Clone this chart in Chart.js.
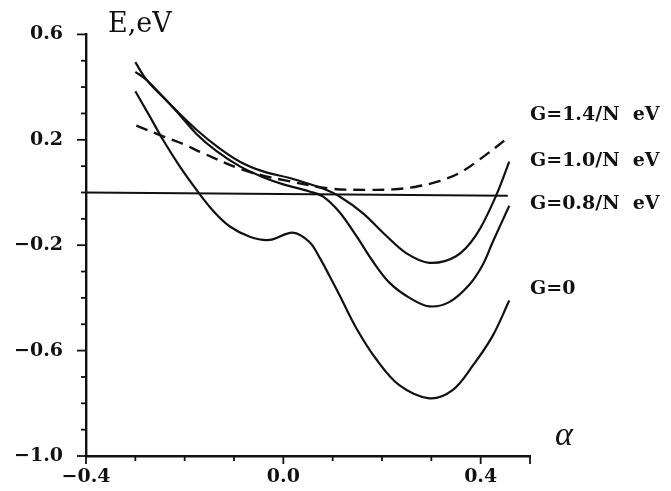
<!DOCTYPE html>
<html>
<head>
<meta charset="utf-8">
<script src="https://cdn.jsdelivr.net/npm/chart.js@4"></script>
<style>
    html, body { margin: 0; padding: 0; background: #fff; }
    #wrap { width: 671px; height: 491px; }
</style>
</head>
<body>
<div id="wrap"><canvas id="energyChart" width="671" height="491"></canvas></div>
<script>
// values
const g0X = [-0.3, -0.271, -0.244, -0.21, -0.176, -0.142, -0.109, -0.068, -0.028, 0.019, 0.053, 0.075, 0.094, 0.114, 0.148, 0.188, 0.235, 0.296, 0.343, 0.384, 0.424, 0.458]
const g0Y = [0.384, 0.29, 0.2, 0.099, 0.01, -0.07, -0.128, -0.168, -0.18, -0.152, -0.188, -0.252, -0.318, -0.39, -0.515, -0.632, -0.731, -0.781, -0.75, -0.657, -0.545, -0.41]

const g08X = [-0.3, -0.277, -0.223, -0.176, -0.136, -0.088, -0.041, 0.0, 0.053, 0.08, 0.114, 0.148, 0.181, 0.215, 0.256, 0.296, 0.337, 0.377, 0.404, 0.424, 0.458]
const g08Y = [0.495, 0.427, 0.322, 0.222, 0.158, 0.099, 0.058, 0.031, 0.004, -0.015, -0.075, -0.165, -0.26, -0.342, -0.4, -0.432, -0.415, -0.35, -0.275, -0.19, -0.05]

const g10X = [-0.3, -0.277, -0.223, -0.176, -0.136, -0.088, -0.041, 0.013, 0.04, 0.08, 0.114, 0.161, 0.208, 0.249, 0.296, 0.35, 0.391, 0.431, 0.458]
const g10Y = [0.458, 0.427, 0.322, 0.238, 0.177, 0.117, 0.08, 0.055, 0.04, 0.015, -0.015, -0.078, -0.163, -0.23, -0.267, -0.242, -0.161, -0.013, 0.117]

const g14X = [-0.298, -0.244, -0.203, -0.166, -0.088, -0.041, 0.006, 0.094, 0.175, 0.222, 0.269, 0.316, 0.357, 0.397, 0.457]
const g14Y = [0.254, 0.213, 0.184, 0.152, 0.09, 0.064, 0.045, 0.015, 0.01, 0.012, 0.022, 0.043, 0.074, 0.124, 0.21]

const zeroX = [-0.4, 0.455]
const zeroY = [0, -0.012]

const xLabelTicks = [-0.4, 0.0, 0.4]
const yLabelTicks = [0.6, 0.2, -0.2, -0.6, -1.0]

const seriesLabels = [
    { text: "G=1.4/N  eV", y: 115 },
    { text: "G=1.0/N  eV", y: 161 },
    { text: "G=0.8/N  eV", y: 204 },
    { text: "G=0", y: 289 }
]

function toPoints(xs, ys) {
    return xs.map((x, i) => ({ x, y: ys[i] }))
}

function isOn(value, list) {
    return list.some((v) => Math.abs(v - value) < 1e-6)
}

function formatTick(value) {
    return value < 0 ? "\u2212" + Math.abs(value).toFixed(1) : value.toFixed(1)
}

// tick marks: long for labelled ticks, short for the rest
const tickMarks = {
    id: "tickMarks",
    afterDraw(chart) {
        const ctx = chart.ctx
        const xs = chart.scales.x
        const ys = chart.scales.y
        const area = chart.chartArea
        ctx.save()
        ctx.strokeStyle = "#111"
        ctx.lineWidth = 1.8
        for (let i = -4; i <= 5; i++) {
            const v = i / 10
            const px = xs.getPixelForValue(v)
            const len = isOn(v, xLabelTicks) || i === 5 ? 8 : 5
            ctx.beginPath()
            ctx.moveTo(px, area.bottom)
            ctx.lineTo(px, area.bottom + len)
            ctx.stroke()
        }
        for (let i = -10; i <= 6; i++) {
            const v = i / 10
            const py = ys.getPixelForValue(v)
            const len = isOn(v, yLabelTicks) ? 9 : 5
            ctx.beginPath()
            ctx.moveTo(area.left, py)
            ctx.lineTo(area.left - len, py)
            ctx.stroke()
        }
        ctx.restore()
    }
}

const textLabels = {
    id: "textLabels",
    afterDraw(chart) {
        const ctx = chart.ctx
        ctx.save()
        ctx.fillStyle = "#111"
        ctx.textBaseline = "middle"
        ctx.textAlign = "left"
        ctx.font = "27px 'DejaVu Serif'"
        ctx.fillText("E,eV", 108, 25)
        ctx.font = "bold 19px 'DejaVu Serif'"
        seriesLabels.forEach((item) => ctx.fillText(item.text, 530, item.y))
        ctx.font = "italic 34px 'Liberation Serif'"
        ctx.fillText("\u03b1", 555, 436)
        ctx.restore()
    }
}

const solidStyle = {
    borderColor: "#111",
    borderWidth: 2.2,
    pointRadius: 0,
    fill: false,
    tension: 0.35
}

new Chart(document.getElementById("energyChart"), {
    type: "line",
    data: {
        datasets: [
            { ...solidStyle, label: "G=0", data: toPoints(g0X, g0Y) },
            { ...solidStyle, label: "G=0.8/N eV", data: toPoints(g08X, g08Y) },
            { ...solidStyle, label: "G=1.0/N eV", data: toPoints(g10X, g10Y) },
            { ...solidStyle, label: "G=1.4/N eV", data: toPoints(g14X, g14Y), borderDash: [12, 7], borderWidth: 2.4 },
            { ...solidStyle, label: "E=0", data: toPoints(zeroX, zeroY), borderWidth: 2, tension: 0 }
        ]
    },
    options: {
        responsive: false,
        animation: false,
        layout: { padding: { top: 25, right: 141, left: 0, bottom: 0 } },
        plugins: {
            legend: { display: false },
            tooltip: { enabled: false }
        },
        scales: {
            x: {
                type: "linear",
                min: -0.4,
                max: 0.5,
                afterFit(scale) { scale.height = 35 },
                border: { display: true, color: "#111", width: 2.4 },
                grid: { display: false, drawTicks: false },
                afterBuildTicks(scale) {
                    scale.ticks = xLabelTicks.map((v) => ({ value: v }))
                },
                ticks: {
                    padding: 10,
                    color: "#111",
                    font: { family: "'DejaVu Serif'", size: 19, weight: "bold" },
                    callback: (value) => formatTick(value)
                }
            },
            y: {
                type: "linear",
                min: -1.0,
                max: 0.6,
                afterFit(scale) { scale.width = 86 },
                border: { display: true, color: "#111", width: 2.4 },
                grid: { display: false, drawTicks: false },
                afterBuildTicks(scale) {
                    scale.ticks = yLabelTicks.map((v) => ({ value: v }))
                },
                ticks: {
                    padding: 23,
                    color: "#111",
                    font: { family: "'DejaVu Serif'", size: 19, weight: "bold" },
                    callback: (value) => formatTick(value)
                }
            }
        }
    },
    plugins: [tickMarks, textLabels]
})
</script>
</body>
</html>
